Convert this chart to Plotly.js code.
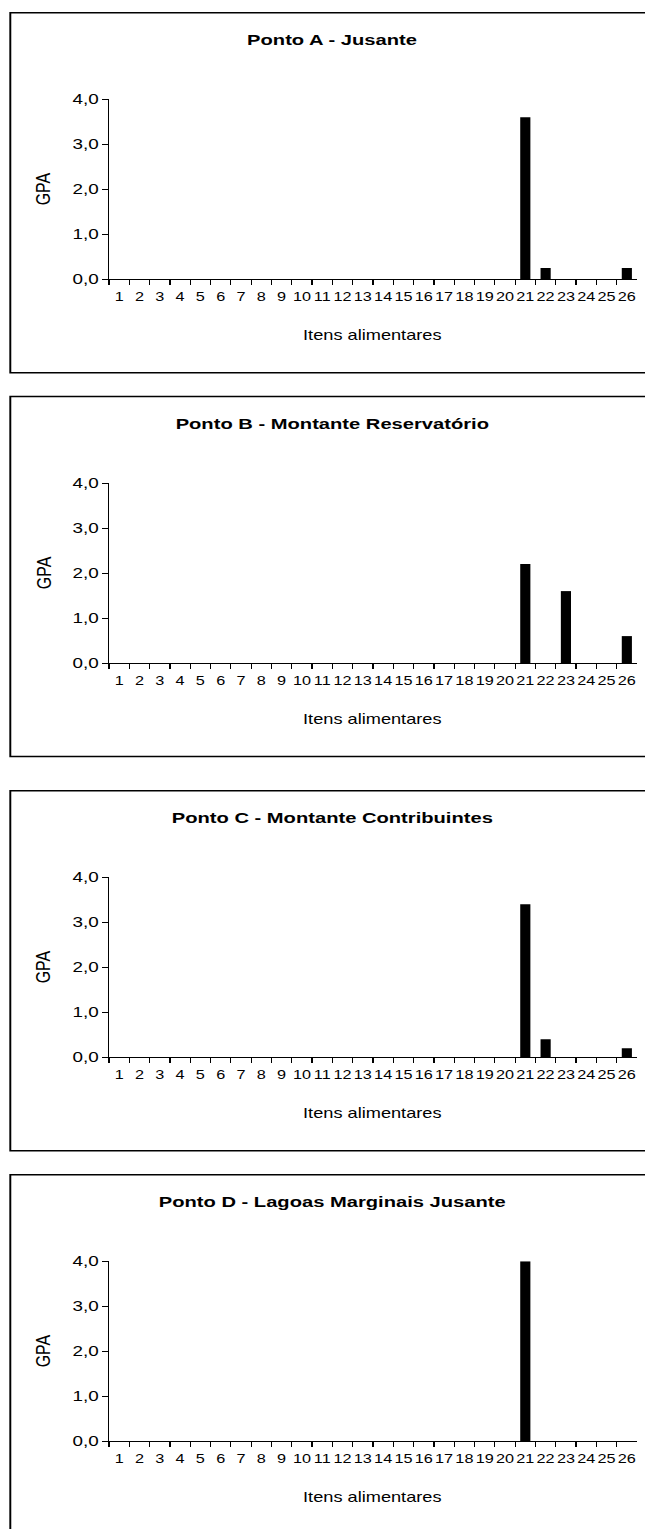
<!DOCTYPE html>
<html>
<head>
<meta charset="utf-8">
<script src="https://cdn.plot.ly/plotly-3.0.1.min.js"></script>
<style>
  html, body { margin: 0; padding: 0; background: #fff; overflow: hidden; }
  #chart { width: 496px; height: 1529px; transform: scaleX(1.3004); transform-origin: 0 0; }
</style>
</head>
<body>
<div id="chart"></div>
<script>
// ---- data ----
const categories = ['1','2','3','4','5','6','7','8','9','10','11','12','13','14','15','16','17','18','19','20','21','22','23','24','25','26'];
const gpaA = [0,0,0,0,0,0,0,0,0,0,0,0,0,0,0,0,0,0,0,0,3.6,0.25,0,0,0,0.25];
const gpaB = [0,0,0,0,0,0,0,0,0,0,0,0,0,0,0,0,0,0,0,0,2.2,0,1.6,0,0,0.6];
const gpaC = [0,0,0,0,0,0,0,0,0,0,0,0,0,0,0,0,0,0,0,0,3.4,0.4,0,0,0,0.2];
const gpaD = [0,0,0,0,0,0,0,0,0,0,0,0,0,0,0,0,0,0,0,0,4.0,0,0,0,0,0];
const panelTitles = ['Ponto A - Jusante','Ponto B - Montante Reservatório','Ponto C - Montante Contribuintes','Ponto D - Lagoas Marginais Jusante'];
const yTicks = [0,1,2,3,4];
const xTitle = 'Itens alimentares';
const yTitle = 'GPA';

// ---- layout geometry (pixels in the final picture) ----
const W = 496, H = 1529, S = 645 / 496;
const series = [gpaA, gpaB, gpaC, gpaD];
const tops = [12.7, 396.5, 790.7, 1174.7];
const plotLeft = 109, plotRight = 637, boxLeft = 10.3;
const fx = px => (px / S) / W;
const fy = py => 1 - py / H;
const FONT = 'Liberation Sans, Arial, sans-serif';

const data = [];
const layout = {
  width: W, height: H,
  margin: {l: 0, r: 0, t: 0, b: 0},
  paper_bgcolor: '#fff', plot_bgcolor: '#fff',
  showlegend: false,
  separators: ',.',
  bargap: 0.5,
  font: {family: FONT, size: 14, color: '#000'},
  shapes: [], annotations: []
};

series.forEach((vals, i) => {
  const n = i === 0 ? '' : String(i + 1);
  const T = tops[i];
  data.push({
    type: 'bar', x: categories, y: vals,
    xaxis: 'x' + n, yaxis: 'y' + n,
    marker: {color: '#000', line: {width: 0}},
    hoverinfo: 'skip'
  });
  layout['xaxis' + n] = {
    domain: [fx(plotLeft), fx(plotRight)],
    anchor: 'y' + n,
    type: 'category',
    range: [-0.5, 25.5],
    tickmode: 'linear', dtick: 1, tickangle: 0,
    showline: true, linecolor: '#000', linewidth: 1,
    ticks: 'outside', ticklen: 5, tickcolor: '#000', tickwidth: 1,
    tickson: 'boundaries',
    ticklabelstandoff: 6,
    tickfont: {family: FONT, size: 12.5, color: '#000'},
    showgrid: false, zeroline: false, fixedrange: true
  };
  layout['yaxis' + n] = {
    domain: [fy(T + 266.6), fy(T + 86.6)],
    anchor: 'x' + n,
    range: [0, 4],
    tickvals: yTicks, tickformat: '.1f',
    showline: true, linecolor: '#000', linewidth: 1,
    ticks: 'outside', ticklen: 4, tickcolor: '#000', tickwidth: 1,
    tickfont: {family: FONT, size: 14.5, color: '#000'},
    showgrid: false, zeroline: false, fixedrange: true
  };
  // outer chart frame
  layout.shapes.push({
    type: 'rect', xref: 'paper', yref: 'paper',
    x0: fx(boxLeft), x1: 1.05,
    y0: i === 3 ? -0.02 : fy(T + 360), y1: fy(T),
    line: {color: '#000', width: 1.5}, fillcolor: 'rgba(0,0,0,0)', layer: 'above'
  });
  layout.annotations.push({
    text: '<b>' + panelTitles[i] + '</b>', xref: 'paper', yref: 'paper',
    x: fx(332), y: fy(T + 27), xanchor: 'center', yanchor: 'middle',
    showarrow: false, font: {family: FONT, size: 15.5, color: '#000'}
  });
  layout.annotations.push({
    text: xTitle, xref: 'paper', yref: 'paper',
    x: fx((plotLeft + plotRight) / 2), y: fy(T + 322), xanchor: 'center', yanchor: 'middle',
    showarrow: false, font: {family: FONT, size: 14, color: '#000'}
  });
  layout.annotations.push({
    text: yTitle, xref: 'paper', yref: 'paper', textangle: -90,
    x: fx(43), y: fy(T + 176.6), xanchor: 'center', yanchor: 'middle',
    showarrow: false, font: {family: FONT, size: 16, color: '#000'}
  });
});

Plotly.newPlot('chart', data, layout, {displayModeBar: false, staticPlot: true});
</script>
</body>
</html>
